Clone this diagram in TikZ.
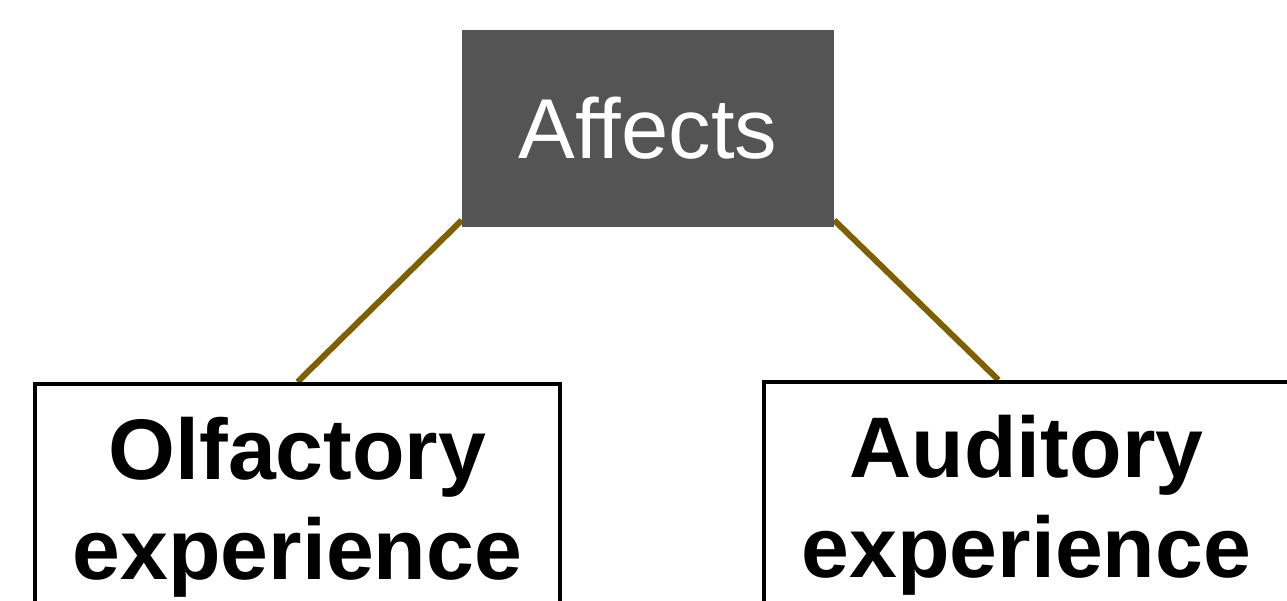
\documentclass[tikz,border=0pt]{standalone}
\usepackage{fontspec}
\setmainfont{Liberation Sans}
\usetikzlibrary{backgrounds,calc}
\definecolor{topfill}{HTML}{545454}
\definecolor{linkcol}{HTML}{7F6000}
\begin{document}
\begin{tikzpicture}[x=1pt,y=-1pt,
  topbox/.style={rectangle, fill=topfill, text=white, minimum width=372pt, minimum height=197pt, inner sep=0pt,
    font=\fontsize{85}{100}\selectfont},
  leafbox/.style={rectangle, draw=black, line width=3.5pt, fill=white, minimum width=525pt, anchor=north,
    align=center, inner ysep=0pt, text height=196pt, text depth=200pt,
    font=\fontsize{86}{100}\selectfont\bfseries},
  link/.style={draw=linkcol, line width=6pt}]
\useasboundingbox (0,0) rectangle (1287,601);
\node[topbox] (T) at (648,128.5) {Affects};
\node[leafbox] (L) at (297.5,382) {Olfactory\\experience};
\node[leafbox] (R) at (1026.5,380) {Auditory\\experience};
\begin{scope}[on background layer]
\draw[link] ([yshift=7pt]T.south west) -- (L.north);
\draw[link] ([yshift=7pt]T.south east) -- ([xshift=-28pt]R.north);
\end{scope}
\end{tikzpicture}
\end{document}
